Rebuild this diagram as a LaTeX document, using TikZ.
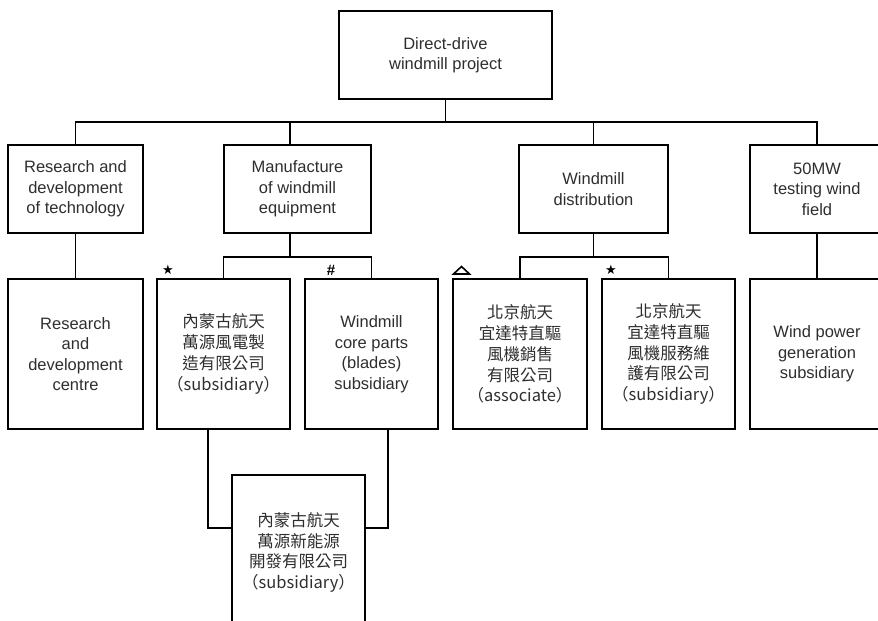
\documentclass[tikz,border=0pt]{standalone}
\usepackage{fontspec}
\setmainfont{Liberation Sans}
\newfontfamily\cjk{Noto Sans CJK TC}
\newfontfamily\symf{DejaVu Sans}
\begin{document}
\begin{tikzpicture}[x=1pt,y=-1pt,
  box/.style={draw,line width=1.4pt,align=center,inner sep=0pt,text=black!82,
    font=\fontsize{16.5}{20.5}\selectfont},
  cbox/.style={box,font=\fontsize{16.5}{20.8}\selectfont\cjk},
  link/.style={line width=1.3pt},
  tag/.style={inner sep=0pt,text=black}]
\useasboundingbox (0,0) rectangle (878,621);
% top
\node[box,minimum width=213,minimum height=88] (top) at (445.5,55) {Direct-drive\\windmill project};
% row 2
\node[box,minimum width=135,minimum height=88] (r1) at (75.5,189) {Research and\\development\\of technology};
\node[box,minimum width=147,minimum height=88] (r2) at (297.5,189) {Manufacture\\of windmill\\equipment};
\node[box,minimum width=149,minimum height=88] (r3) at (593.5,189) {Windmill\\distribution};
\node[box,minimum width=134,minimum height=88] (r4) at (817,189) {50MW\\testing wind\\field};
% row 3
\node[box,minimum width=135,minimum height=150] (rd) at (75.5,354) {Research\\and\\development\\centre};
\node[cbox,minimum width=133,minimum height=150] (d) at (223.5,354) {內蒙古航天\\萬源風電製\\造有限公司\\（subsidiary）};
\node[box,minimum width=133,minimum height=150] (e) at (371.5,354) {Windmill\\core parts\\(blades)\\subsidiary};
\node[cbox,minimum width=134,minimum height=150] (a) at (520,354) {北京航天\\宜達特直驅\\風機銷售\\有限公司\\（associate）};
\node[cbox,minimum width=133,minimum height=150] (b) at (668.5,354) {北京航天\\宜達特直驅\\風機服務維\\護有限公司\\（subsidiary）};
\node[box,minimum width=134,minimum height=150] (c) at (817,354) {Wind power\\generation\\subsidiary};
% bottom
\node[cbox,minimum width=133,minimum height=155] (f) at (298.5,552.5) {內蒙古航天\\萬源新能源\\開發有限公司\\（subsidiary）};
% connectors: top bus
\coordinate (bus) at (0,122);
\draw[link] (top.south) -- (top.south |- bus);
\draw[link] (r1.north) -- (r1.north |- bus) -- (r4.north |- bus) -- (r4.north);
\draw[link] ([xshift=-7.5pt]r2.north) -- ([xshift=-7.5pt]r2.north |- bus);
\draw[link] (r3.north) -- (r3.north |- bus);
% row 2 to row 3
\coordinate (bus2) at (0,257);
\draw[link] (r1.south) -- (rd.north);
\draw[link] (r4.south) -- (c.north);
\draw[link] ([xshift=-7.5pt]r2.south) -- ([xshift=-7.5pt]r2.south |- bus2);
\draw[link] (d.north) -- (d.north |- bus2) -- (e.north |- bus2) -- (e.north);
\draw[link] (r3.south) -- (r3.south |- bus2);
\draw[link] (a.north) -- (a.north |- bus2) -- (b.north |- bus2) -- (b.north);
% row 3 to bottom
\draw[link] ([xshift=-15.5pt]d.south) |- ([yshift=24.5pt]f.west);
\draw[link] ([xshift=16.5pt]e.south) |- ([yshift=24.5pt]f.east);
% tags
\node[tag,font=\fontsize{13}{13}\selectfont\symf] (s1) at (168,269.5) {★};
\node[tag,font=\fontsize{13}{13}\selectfont\symf] (s2) at (611,269.5) {★};
\node[tag,font=\bfseries\fontsize{15}{15}\selectfont] (h1) at (331,270) {\#};
\draw[line width=1.6pt,line join=miter] (453.5,274) -- (469.5,274) -- (461.5,266.5) -- cycle;
\end{tikzpicture}
\end{document}
